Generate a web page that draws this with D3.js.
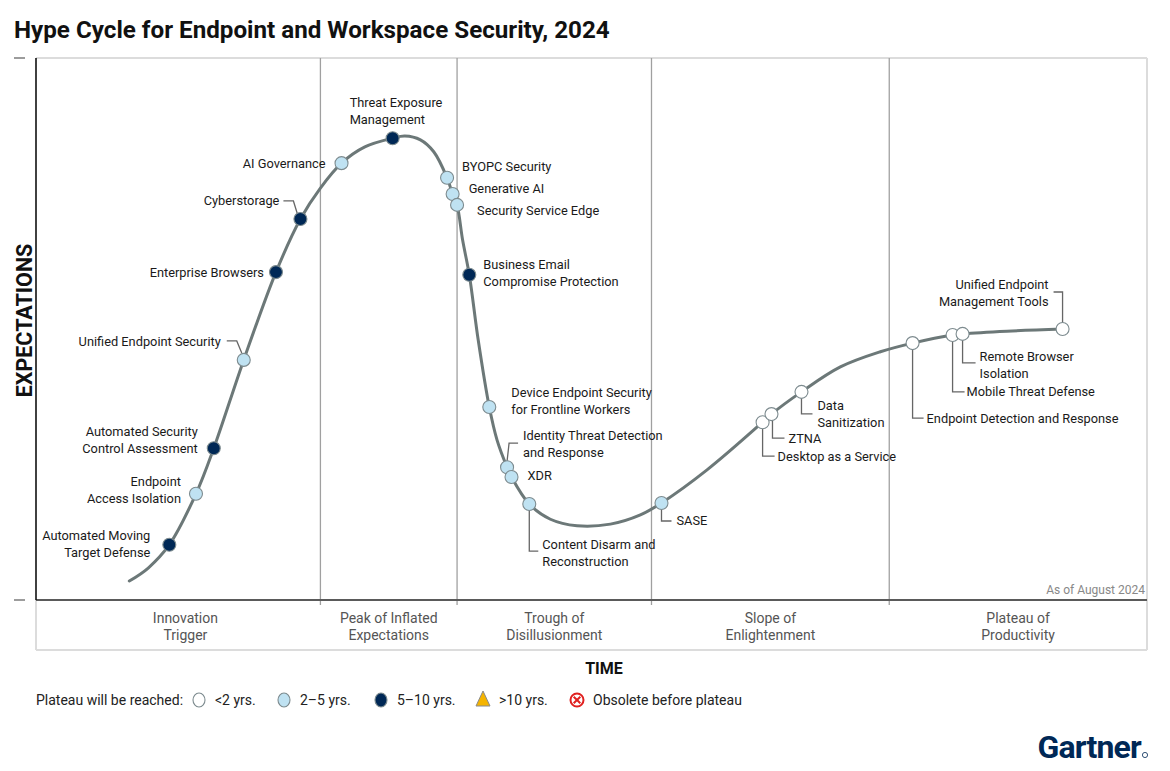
<!DOCTYPE html>
<html>
<head>
<meta charset="utf-8">
<script src="https://cdn.jsdelivr.net/npm/d3@7"></script>
<style>
  html, body { margin: 0; padding: 0; background: #fff; }
  svg { display: block; font-family: Roboto, "Noto Sans", sans-serif; }
</style>
</head>
<body>
<svg id="chart" width="1170" height="771"></svg>
<script>
// ---------------- DATA ----------------
const chartTitle = "Hype Cycle for Endpoint and Workspace Security, 2024";

// Hype curve (time %, expectations %)
const curveX = [8.4, 10.1, 12.0, 14.4, 16.0, 18.7, 21.6, 23.8, 25.6, 27.5, 29.6, 32.1, 33.2, 34.6, 35.8, 37.0, 37.5, 37.9, 38.4, 39.0, 39.8, 40.8, 41.5, 42.4, 42.8, 44.4, 46.3, 48.7, 51.7, 54.4, 56.3, 60.4, 65.4, 66.2, 68.9, 72.4, 76.0, 78.9, 82.5, 83.4, 87.4, 92.4];
const curveY = [3.5, 5.9, 10.2, 19.6, 28.0, 44.3, 60.5, 70.3, 76.0, 80.6, 83.6, 85.2, 85.6, 84.9, 82.7, 77.9, 74.9, 72.9, 66.4, 60.0, 48.0, 35.6, 29.5, 24.5, 22.7, 17.7, 14.9, 13.7, 14.0, 15.7, 17.9, 24.0, 32.8, 34.3, 38.4, 43.0, 45.8, 47.4, 48.9, 49.1, 49.6, 50.0];

// Technologies on the curve
const techNames = [
  "Automated Moving\nTarget Defense", "Endpoint\nAccess Isolation", "Automated Security\nControl Assessment",
  "Unified Endpoint Security", "Enterprise Browsers", "Cyberstorage", "AI Governance",
  "Threat Exposure\nManagement", "BYOPC Security", "Generative AI", "Security Service Edge",
  "Business Email\nCompromise Protection", "Device Endpoint Security\nfor Frontline Workers",
  "Identity Threat Detection\nand Response", "XDR", "Content Disarm and\nReconstruction", "SASE",
  "Desktop as a Service", "ZTNA", "Data\nSanitization", "Endpoint Detection and Response",
  "Mobile Threat Defense", "Remote Browser\nIsolation", "Unified Endpoint\nManagement Tools"
];
const techX = [12.0, 14.4, 16.0, 18.7, 21.6, 23.8, 27.5, 32.1, 37.0, 37.5, 37.9, 39.0, 40.8, 42.4, 42.8, 44.4, 56.3, 65.4, 66.2, 68.9, 78.9, 82.5, 83.4, 92.4];
const techY = [10.2, 19.6, 28.0, 44.3, 60.5, 70.3, 80.6, 85.2, 77.9, 74.9, 72.9, 60.0, 35.6, 24.5, 22.7, 17.7, 17.9, 32.8, 34.3, 38.4, 47.4, 48.9, 49.1, 50.0];
// 0: <2 yrs, 1: 2-5 yrs, 2: 5-10 yrs, 3: >10 yrs, 4: obsolete
const techPlateau = [2, 1, 2, 1, 2, 2, 1, 2, 1, 1, 1, 2, 1, 1, 1, 1, 1, 0, 0, 0, 0, 0, 0, 0];

// Phases
const phaseNames = ["Innovation\nTrigger", "Peak of Inflated\nExpectations", "Trough of\nDisillusionment", "Slope of\nEnlightenment", "Plateau of\nProductivity"];
const phaseBounds = [1.3, 25.6, 37.9, 55.4, 76.8, 100];

// Legend
const legendTitle = "Plateau will be reached:";
const legendLabels = ["<2 yrs.", "2\u20135 yrs.", "5\u201310 yrs.", ">10 yrs.", "Obsolete before plateau"];

const yTicks = [0, 100];
const asOfText = "As of August 2024";

// ---------------- LAYOUT (label placement, px offsets from marker) ----------------
const labelLayout = [
  {a: "end", dx: -19, dy: -9},
  {a: "end", dx: -15, dy: -12},
  {a: "end", dx: -16, dy: -17},
  {a: "end", dx: -23, dy: -18, lead: [[-2, -7], [-7, -19], [-17, -19]]},
  {a: "end", dx: -12, dy: 0},
  {a: "end", dx: -21, dy: -18, lead: [[-3, -5], [-7, -18], [-17, -18]]},
  {a: "end", dx: -16, dy: 0},
  {a: "start", dx: -43, dy: -36},
  {a: "start", dx: 15, dy: -11},
  {a: "start", dx: 16, dy: -6},
  {a: "start", dx: 20, dy: 6},
  {a: "start", dx: 14, dy: -10},
  {a: "start", dx: 22, dy: -15},
  {a: "start", dx: 16, dy: -32, lead: [[0, -6], [2, -24], [11, -24]]},
  {a: "start", dx: 16, dy: -1},
  {a: "start", dx: 13, dy: 40, lead: [[0, 6], [0, 47], [9, 47]]},
  {a: "start", dx: 15, dy: 18, lead: [[0, 6], [0, 18], [10, 18]]},
  {a: "start", dx: 15, dy: 34, lead: [[0, 6], [0, 34], [12, 34]]},
  {a: "start", dx: 17, dy: 24, lead: [[1, 6], [1, 24], [13, 24]]},
  {a: "start", dx: 16, dy: 14, lead: [[0, 6], [0, 22], [11, 22]]},
  {a: "start", dx: 14, dy: 75, lead: [[0, 6], [0, 75], [11, 75]]},
  {a: "start", dx: 14, dy: 57, lead: [[0, 6], [0, 57], [12, 57]]},
  {a: "start", dx: 17, dy: 23, lead: [[0, 6], [0, 29], [13, 29]]},
  {a: "end", dx: -14, dy: -44, lead: [[0, -6], [0, -37], [-9, -37]]}
];

const plateauFill = ["#ffffff", "#bfe2f2", "#002856", "#f5b400", "#ffffff"];
const markerStroke = "#7d8b8f";
const curveColor = "#6c7878";

// ---------------- CHART ----------------
const svg = d3.select("#chart");
const L = 36, R = 1147, T = 58, B = 600;
const x = d3.scaleLinear().domain([0, 100]).range([L, R]);
const y = d3.scaleLinear().domain([0, 100]).range([B, T]);

// Title
svg.append("text").attr("x", 14).attr("y", 38)
  .attr("font-size", 24.2).attr("font-weight", 700).attr("fill", "#111")
  .text(chartTitle);

// Frame
svg.append("line").attr("x1", L).attr("x2", R).attr("y1", T).attr("y2", T)
  .attr("stroke", "#dcdcdc").attr("stroke-width", 2);
svg.append("line").attr("x1", R).attr("x2", R).attr("y1", T).attr("y2", 650)
  .attr("stroke", "#dcdcdc").attr("stroke-width", 2);
svg.append("line").attr("x1", L).attr("x2", R).attr("y1", 650).attr("y2", 650)
  .attr("stroke", "#dcdcdc").attr("stroke-width", 2);
svg.append("line").attr("x1", L).attr("x2", L).attr("y1", B).attr("y2", 650)
  .attr("stroke", "#dcdcdc").attr("stroke-width", 2);

// Phase dividers
const divs = phaseBounds.slice(1, -1);
svg.selectAll(".div").data(divs).join("line")
  .attr("x1", d => x(d)).attr("x2", d => x(d))
  .attr("y1", T).attr("y2", B + 5)
  .attr("stroke", "#a0a0a0").attr("stroke-width", 1.3);

// Bottom axis line
svg.append("line").attr("x1", L).attr("x2", R).attr("y1", B).attr("y2", B)
  .attr("stroke", "#5a5a5a").attr("stroke-width", 2);

// Y axis line
svg.append("line").attr("x1", L).attr("x2", L).attr("y1", T).attr("y2", B)
  .attr("stroke", "#111").attr("stroke-width", 1.6);

// Y ticks (detached)
svg.selectAll(".ytick").data(yTicks).join("line")
  .attr("x1", 14).attr("x2", 25)
  .attr("y1", d => y(d)).attr("y2", d => y(d))
  .attr("stroke", "#666").attr("stroke-width", 1.3);

// Axis titles
svg.append("text")
  .attr("transform", `translate(32,320.5) rotate(-90)`)
  .attr("text-anchor", "middle").attr("font-size", 21.5).attr("font-weight", 700)
  .attr("fill", "#111").text("EXPECTATIONS");
svg.append("text").attr("x", 604).attr("y", 674)
  .attr("text-anchor", "middle").attr("font-size", 16).attr("font-weight", 700)
  .attr("fill", "#111").text("TIME");

// Phase labels
phaseNames.forEach((name, i) => {
  const cx = x((phaseBounds[i] + phaseBounds[i + 1]) / 2);
  const t = svg.append("text").attr("text-anchor", "middle")
    .attr("font-size", 14).attr("fill", "#555");
  name.split("\n").forEach((ln, j) => {
    t.append("tspan").attr("x", cx).attr("y", 623 + j * 17).text(ln);
  });
});

// As of
svg.append("text").attr("x", R - 2).attr("y", 594)
  .attr("text-anchor", "end").attr("font-size", 12).attr("fill", "#888")
  .text(asOfText);

// Curve
const curvePts = curveX.map((d, i) => [d, curveY[i]]);
svg.append("path")
  .attr("d", d3.line().x(d => x(d[0])).y(d => y(d[1])).curve(d3.curveCatmullRom.alpha(0.5))(curvePts))
  .attr("fill", "none").attr("stroke", curveColor).attr("stroke-width", 3)
  .attr("stroke-linecap", "round");

// Leaders
const leaderG = svg.append("g");
techNames.forEach((n, i) => {
  const lay = labelLayout[i];
  if (!lay.lead) return;
  const mx = x(techX[i]), my = y(techY[i]);
  leaderG.append("path")
    .attr("d", d3.line()(lay.lead.map(p => [mx + p[0], my + p[1]])))
    .attr("fill", "none").attr("stroke", "#666").attr("stroke-width", 1.3);
});

// Markers
techNames.forEach((n, i) => {
  svg.append("circle")
    .attr("cx", x(techX[i])).attr("cy", y(techY[i])).attr("r", 6.5)
    .attr("fill", plateauFill[techPlateau[i]])
    .attr("stroke", markerStroke).attr("stroke-width", 1.1);
});

// Labels
techNames.forEach((n, i) => {
  const lay = labelLayout[i];
  const mx = x(techX[i]), my = y(techY[i]);
  const t = svg.append("text").attr("text-anchor", lay.a)
    .attr("font-size", 12.8).attr("fill", "#1a1a1a");
  n.split("\n").forEach((ln, j) => {
    t.append("tspan").attr("x", mx + lay.dx).attr("y", my + lay.dy + j * 17)
      .attr("dy", "0.35em").text(ln);
  });
});

// Legend
const ly = 700;
svg.append("text").attr("x", 36).attr("y", ly).attr("dy", "0.35em")
  .attr("font-size", 14).attr("fill", "#222").text(legendTitle);
const legX = [199, 284, 381, 483, 577];
legendLabels.forEach((lab, i) => {
  const cx = legX[i];
  if (i <= 2) {
    svg.append("ellipse").attr("cx", cx).attr("cy", ly).attr("rx", 6).attr("ry", 7)
      .attr("fill", plateauFill[i]).attr("stroke", markerStroke).attr("stroke-width", 1.1);
  } else if (i === 3) {
    svg.append("path").attr("d", `M${cx},${ly - 9}L${cx + 7},${ly + 6}L${cx - 7},${ly + 6}Z`)
      .attr("fill", plateauFill[3]).attr("stroke", "#8a8a8a").attr("stroke-width", 1);
  } else {
    svg.append("circle").attr("cx", cx).attr("cy", ly).attr("r", 6.5)
      .attr("fill", "#fff").attr("stroke", "#e0201f").attr("stroke-width", 2);
    svg.append("path").attr("d", `M${cx - 3.3},${ly - 3.3}L${cx + 3.3},${ly + 3.3}M${cx + 3.3},${ly - 3.3}L${cx - 3.3},${ly + 3.3}`)
      .attr("stroke", "#e0201f").attr("stroke-width", 2);
  }
  svg.append("text").attr("x", cx + 16).attr("y", ly).attr("dy", "0.35em")
    .attr("font-size", 14).attr("fill", "#222").text(lab);
});

// Gartner logo
svg.append("text").attr("x", 1141).attr("y", 758).attr("text-anchor", "end")
  .attr("font-size", 32).attr("font-weight", 700).attr("fill", "#002856")
  .attr("letter-spacing", -0.8).text("Gartner");
svg.append("circle").attr("cx", 1145).attr("cy", 755).attr("r", 2.6)
  .attr("fill", "none").attr("stroke", "#002856").attr("stroke-width", 0.8);
</script>
</body>
</html>
